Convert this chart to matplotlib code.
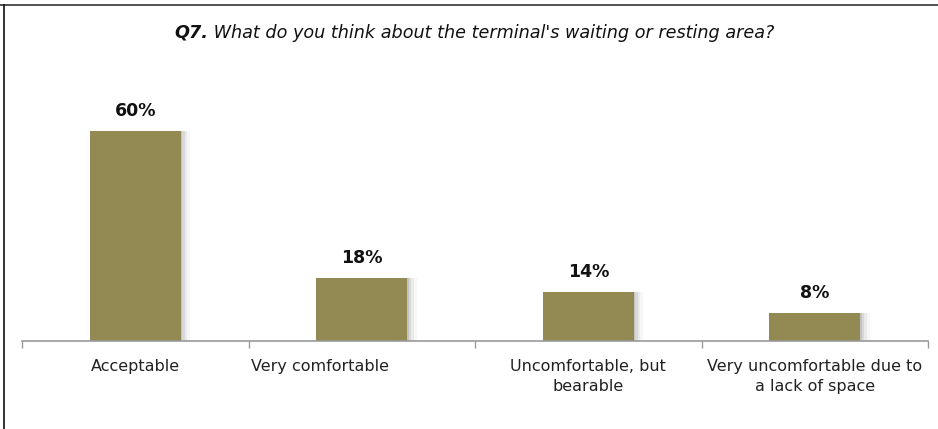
import matplotlib
matplotlib.use("Agg")
import matplotlib.pyplot as plt
import numpy as np
from matplotlib.lines import Line2D
from matplotlib.transforms import offset_copy

categories = ["Acceptable", "Very comfortable", "Uncomfortable, but\nbearable",
              "Very uncomfortable due to\na lack of space"]
values = [60, 18, 14, 8]
labels = ["60%", "18%", "14%", "8%"]

W, H = 938, 429
fig = plt.figure(figsize=(W / 100, H / 100), dpi=100)
fig.patch.set_facecolor("white")

ax = fig.add_axes([22 / W, 88 / H, 906 / W, 245 / H])
x = np.arange(len(categories))
bar_color = "#938953"

# soft shadow
for off, a in [(0.008, 0.10), (0.018, 0.07), (0.030, 0.05), (0.042, 0.03)]:
    ax.bar(x + off, values, width=0.4, color="#000000", alpha=a, zorder=1,
           linewidth=0)
ax.bar(x, values, width=0.4, color=bar_color, zorder=2, linewidth=0)

for xi, v, lab in zip(x, values, labels):
    ax.annotate(lab, (xi, v), xytext=(0, 8), textcoords="offset points",
                ha="center", va="bottom", fontsize=12.5, fontweight="bold",
                color="#111111", family="DejaVu Sans")

ax.set_xlim(-0.5, len(categories) - 0.5)
ax.set_ylim(0, 70)
ax.set_yticks([])
for s in ["top", "right", "left"]:
    ax.spines[s].set_visible(False)
ax.spines["bottom"].set_color("#999999")
ax.spines["bottom"].set_linewidth(1.2)

ax.set_xticks(np.arange(len(categories) + 1) - 0.5, minor=True)
ax.tick_params(axis="x", which="minor", length=5, color="#999999", width=1)
ax.set_xticks(x)
ax.set_xticklabels(categories, fontsize=11.5, color="#222222", family="DejaVu Sans",
                   linespacing=1.4)
ax.tick_params(axis="x", which="major", length=0, pad=13)
# the second label sits left of its bar in the reference
lbl = ax.get_xticklabels()[1]
lbl.set_transform(offset_copy(lbl.get_transform(), fig=fig, x=-42, y=0, units="dots"))

title_bold = "Q7."
title_rest = " What do you think about the terminal's waiting or resting area?"
tb = fig.text(174 / W, 1 - 33 / H, title_bold, ha="left", va="center",
              fontsize=12.7, fontweight="bold", fontstyle="italic", color="#111111")
fig.canvas.draw()
bb = tb.get_window_extent()
fig.text(bb.x1 / W, 1 - 33 / H, title_rest, ha="left", va="center",
         fontsize=12.7, fontstyle="italic", color="#111111")

# frame lines
fig.add_artist(Line2D([0, 1], [1 - 5 / H, 1 - 5 / H], transform=fig.transFigure,
                      color="#333333", lw=1.2))
fig.add_artist(Line2D([4 / W, 4 / W], [0, 1 - 5 / H], transform=fig.transFigure,
                      color="#111111", lw=1.2))

fig.savefig("out.png", dpi=100, facecolor="white")
